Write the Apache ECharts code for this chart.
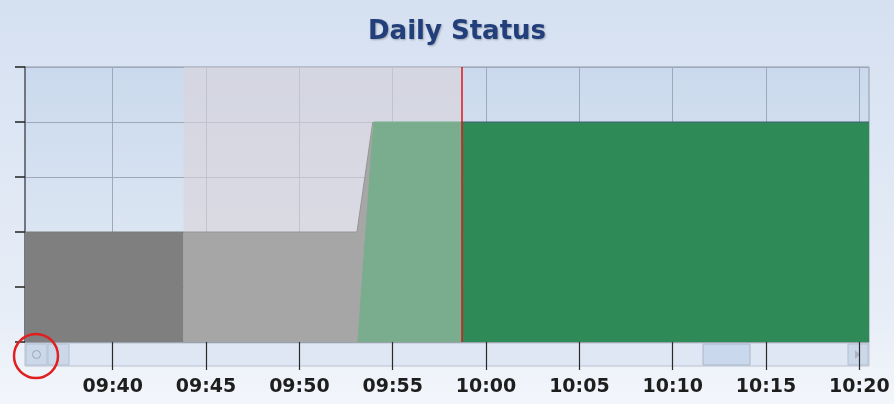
<!DOCTYPE html>
<html>
<head>
<meta charset="utf-8">
<script src="https://cdn.jsdelivr.net/npm/echarts@6/dist/echarts.min.js"></script>
<style>html,body{margin:0;padding:0;}#c{width:894px;height:404px;}</style>
</head>
<body>
<div id="c"></div>
<script>
// ---- data (times HH:MM:SS, status level) ----
const axisRange = ['09:35:18', '10:20:31'];
const tickLabels = ['09:40','09:45','09:50','09:55','10:00','10:05','10:10','10:15','10:20'];
const darkGrayTimes = ['09:35:18', '09:43:48'];
const darkGrayValues = [2, 2];
const lightGrayTimes = ['09:43:48', '09:53:05', '09:53:56'];
const lightGrayValues = [2, 2, 4];
const lightGreenTimes = ['09:53:08', '09:53:59', '09:58:41'];
const lightGreenValues = [0, 4, 4];
const darkGreenTimes = ['09:58:41', '10:20:31'];
const darkGreenValues = [4, 4];
const shadedRange = ['09:43:48', '09:58:41'];
const markerTime = '09:58:41';

// minutes of the day
function m(s) {
  const p = s.split(':').map(Number);
  return p[0] * 60 + p[1] + (p[2] || 0) / 60;
}
function pts(times, vals) { return times.map((x, i) => [m(x), vals[i]]); }
function fmt(v) {
  const tot = Math.round(v * 60);
  const h = Math.floor(tot / 3600), mi = Math.floor((tot % 3600) / 60);
  return String(h).padStart(2, '0') + ':' + String(mi).padStart(2, '0');
}
const tickValues = tickLabels.map(m);

const chart = echarts.init(document.getElementById('c'));
const areaSeries = (name, data, color, lineColor, extra) => Object.assign({
  name, type: 'line', data, showSymbol: false, symbol: 'none',
  lineStyle: { color: lineColor, width: 1 },
  itemStyle: { color },
  areaStyle: { color, opacity: 1 },
  animation: false
}, extra || {});

chart.setOption({
  animation: false,
  backgroundColor: {
    type: 'linear', x: 0, y: 0, x2: 0, y2: 1,
    colorStops: [{ offset: 0, color: '#d5e0f1' }, { offset: 0.8, color: '#e8eef7' }, { offset: 1, color: '#f3f6fb' }]
  },
  title: {
    text: 'Daily Status', left: 363, top: 14,
    textStyle: {
      fontFamily: 'DejaVu Sans', fontWeight: 'bold', fontSize: 26, color: '#223f7b',
      textShadowColor: 'rgba(0,0,0,0.28)', textShadowBlur: 2, textShadowOffsetX: 1, textShadowOffsetY: 1
    }
  },
  grid: {
    left: 25, right: 25, top: 67, bottom: 62, show: true,
    outerBoundsMode: 'none', containLabel: false,
    borderColor: '#8e98a8', borderWidth: 1,
    backgroundColor: {
      type: 'linear', x: 0, y: 0, x2: 0, y2: 1,
      colorStops: [{ offset: 0, color: '#cad9ed' }, { offset: 1, color: '#e6edf6' }]
    }
  },
  xAxis: {
    type: 'value', min: m(axisRange[0]), max: m(axisRange[1]),
    axisLine: { show: true, onZero: false, lineStyle: { color: '#9aa2ae' } },
    axisTick: { show: true, length: 28, customValues: tickValues, lineStyle: { color: '#2a2a2a', width: 1.2 } },
    splitLine: { show: true, lineStyle: { color: '#9ea8b7', width: 1 } },
    axisLabel: {
      margin: 36, fontFamily: 'DejaVu Sans', fontWeight: 'bold', fontSize: 19, color: '#1e1e1e',
      customValues: tickValues,
      formatter: fmt
    }
  },
  yAxis: {
    type: 'value', min: 0, max: 5, interval: 1,
    axisLine: { show: true, lineStyle: { color: '#5a5f68', width: 1.5 } },
    axisTick: { show: true, length: 10, lineStyle: { color: '#222', width: 1.5 } },
    axisLabel: { show: false },
    splitLine: { show: true, lineStyle: { color: '#9ea8b7', width: 1 } }
  },
  graphic: [
    { type: 'rect', z: -10, shape: { x: 25, y: 343, width: 844, height: 23 }, style: { fill: '#dfe7f4', stroke: '#b8c1cd', lineWidth: 1 } },
    { type: 'rect', z: -9, shape: { x: 26, y: 344, width: 21, height: 21 }, style: { fill: '#cbd8ea', stroke: '#b3bfd0', lineWidth: 1 } },
    { type: 'circle', z: -8, shape: { cx: 36.5, cy: 354.5, r: 4 }, style: { fill: 'none', stroke: '#9aa5b6', lineWidth: 1 } },
    { type: 'rect', z: -9, shape: { x: 48, y: 344, width: 21, height: 21 }, style: { fill: '#cbd8ea', stroke: '#b3bfd0', lineWidth: 1 } },
    { type: 'rect', z: -9, shape: { x: 703, y: 344, width: 47, height: 21 }, style: { fill: '#c9d8ec', stroke: '#aab6c8', lineWidth: 1 } },
    { type: 'rect', z: -9, shape: { x: 848, y: 344, width: 20, height: 21 }, style: { fill: '#cbd8ea', stroke: '#b3bfd0', lineWidth: 1 } },
    { type: 'polygon', z: -8, shape: { points: [[855, 350], [860, 354.5], [855, 359]] }, style: { fill: '#aab4c4' } },
    { type: 'circle', z: 100, shape: { cx: 36, cy: 356, r: 22 }, style: { fill: 'none', stroke: '#e02020', lineWidth: 2.5 } }
  ],
  series: [
    areaSeries('Idle', pts(darkGrayTimes, darkGrayValues), '#7f7f7f', '#7a7a7a', {
      markArea: {
        silent: true,
        itemStyle: { color: 'rgba(218,212,218,0.62)' },
        data: [[{ xAxis: m(shadedRange[0]) }, { xAxis: m(shadedRange[1]) }]]
      }
    }),
    areaSeries('Setup', pts(lightGrayTimes, lightGrayValues), '#a6a6a6', '#969696'),
    areaSeries('Warmup', pts(lightGreenTimes, lightGreenValues), '#7aad8d', '#7aad8d'),
    areaSeries('Running', pts(darkGreenTimes, darkGreenValues), '#2e8a56', '#3d5f78', {
      markLine: {
        silent: true, symbol: ['none', 'none'], label: { show: false },
        lineStyle: { color: '#e0151a', width: 1.5, type: 'solid' },
        data: [{ xAxis: m(markerTime) }]
      }
    })
  ]
});
</script>
</body>
</html>
